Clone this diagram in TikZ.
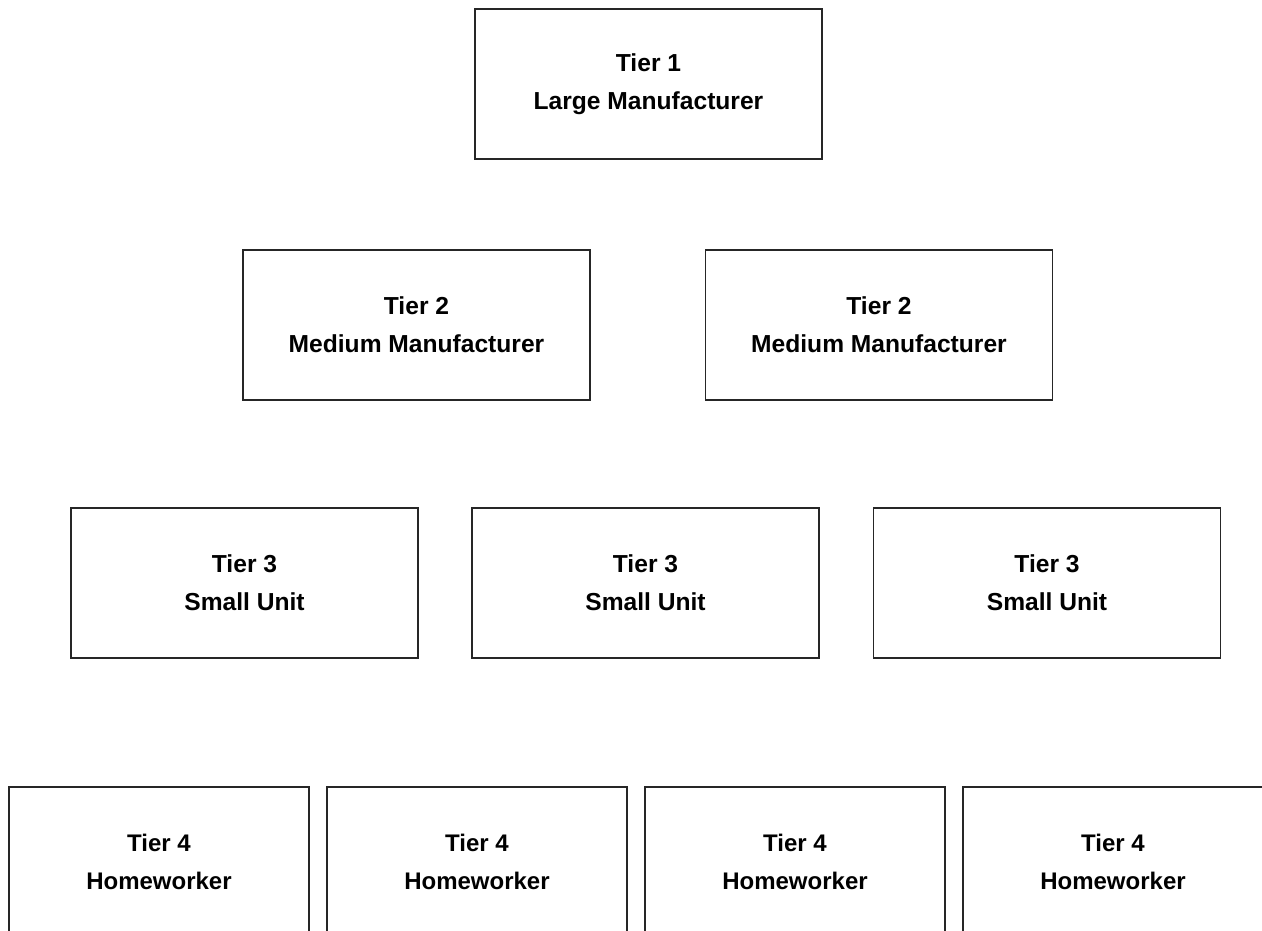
\documentclass[tikz,border=0pt]{standalone}
\usepackage{fontspec}
\setmainfont{Liberation Sans}
\begin{document}
\begin{tikzpicture}[x=1pt,y=-1pt,
  tierbox/.style={draw=black!85, line width=1.3pt, rectangle, align=center,
    minimum width=347pt, minimum height=150pt, inner sep=0pt,
    font=\fontsize{24.6}{38}\selectfont\bfseries},
  homebox/.style={tierbox, minimum width=300pt,
    font=\fontsize{24}{38}\selectfont\bfseries}]
  \useasboundingbox (0,0) rectangle (1262,931);
  \clip (0,0) rectangle (1262,931);
  % Tier 1
  \node[tierbox] (t1) at (648.5,84) {Tier 1\\Large Manufacturer};
  % Tier 2
  \node[tierbox] (t2a) at (416.5,325) {Tier 2\\Medium Manufacturer};
  \node[tierbox] (t2b) at (879,325) {Tier 2\\Medium Manufacturer};
  % Tier 3
  \node[tierbox] (t3a) at (244.5,583) {Tier 3\\Small Unit};
  \node[tierbox] (t3b) at (645.5,583) {Tier 3\\Small Unit};
  \node[tierbox] (t3c) at (1047,583) {Tier 3\\Small Unit};
  % Tier 4
  \node[homebox] (t4a) at (159,862) {Tier 4\\Homeworker};
  \node[homebox] (t4b) at (477,862) {Tier 4\\Homeworker};
  \node[homebox] (t4c) at (795,862) {Tier 4\\Homeworker};
  \node[homebox] (t4d) at (1113,862) {Tier 4\\Homeworker};
\end{tikzpicture}
\end{document}
